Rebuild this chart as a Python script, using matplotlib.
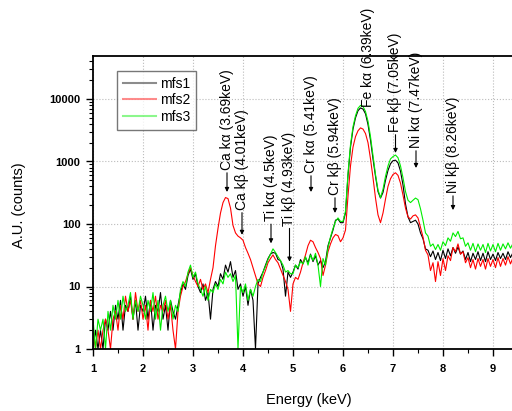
import matplotlib
matplotlib.use('Agg')
import matplotlib.pyplot as plt
import numpy as np
from matplotlib.ticker import LogLocator, MultipleLocator, NullFormatter, FixedLocator, FixedFormatter

plt.rcParams['font.family'] = ['Liberation Sans', 'DejaVu Sans']

# Energy grid (keV): 1.00 .. 9.40 in 0.05 keV channels
E_START = 1.0
E_STEP = 0.05

# mfs1 (black) counts, rows of 0.5 keV
mfs1 = [
    1, 2, 1, 2, 1, 3, 2, 4, 2, 5,                      # 1.00
    3, 6, 2, 5, 4, 7, 3, 6, 2, 5,                      # 1.50
    4, 7, 3, 6, 2, 5, 4, 8, 3, 5,                      # 2.00
    2, 6, 4, 3, 5, 8, 11, 9, 15, 19,                   # 2.50
    13, 16, 10, 8, 11, 6, 8, 3, 9, 12,                 # 3.00
    10, 16, 13, 22, 17, 25, 14, 18, 9, 11,             # 3.50
    7, 10, 5, 9, 6, 1, 11, 14, 17, 22,                 # 4.00
    28, 33, 35, 34, 27, 26, 19, 7, 17, 14,             # 4.50
    17, 22, 19, 27, 23, 29, 24, 33, 25, 31,            # 5.00
    22, 26, 20, 25, 45, 60, 80, 115, 120, 105,         # 5.50
    105, 150, 600, 1700, 3300, 5000, 6500, 7200, 6900, 5800,  # 6.00
    3900, 2200, 1100, 580, 330, 260, 320, 500, 720, 920,      # 6.50
    1030, 1050, 950, 700, 420, 210, 130, 105, 110, 115,       # 7.00
    100, 72, 58, 40, 38, 30, 37, 27, 35, 26,           # 7.50
    38, 28, 40, 31, 42, 34, 43, 33, 37, 27,            # 8.00
    35, 25, 34, 27, 36, 26, 34, 25, 36, 27,            # 8.50
    33, 26, 35, 28, 34, 27, 36, 29, 35,                # 9.00
]

# mfs2 (red) counts
mfs2 = [
    2, 1, 2, 1, 2, 3, 2, 1, 3, 4,
    2, 5, 3, 7, 4, 6, 3, 8, 4, 6,
    3, 5, 2, 6, 4, 7, 3, 5, 4, 6,
    3, 5, 2, 1, 4, 7, 10, 12, 16, 20,
    15, 12, 10, 13, 9, 11, 8, 13, 20, 45,
    85, 150, 220, 265, 255, 180, 95, 72, 64, 60,
    55, 42, 34, 27, 20, 15, 11, 10, 14, 18,
    24, 28, 32, 27, 24, 19, 15, 12, 9, 4,
    11, 14, 13, 17, 24, 32, 45, 55, 52, 42,
    35, 28, 15, 22, 36, 48, 60, 68, 65, 52,
    60, 80, 280, 850, 1700, 2500, 3100, 3450, 3300, 2800,
    2000, 1100, 550, 260, 140, 105, 150, 250, 400, 530,
    620, 660, 600, 450, 290, 180, 130, 120, 135, 140,
    125, 88, 62, 38, 32, 18, 24, 12, 25, 15,
    28, 18, 31, 26, 42, 36, 48, 33, 36, 24,
    29, 20, 27, 19, 28, 21, 27, 19, 28, 21,
    27, 20, 29, 21, 28, 22, 30, 23, 29,
]

# mfs3 (green) counts
mfs3 = [
    3, 1, 3, 2, 3, 1, 4, 2, 5, 3,
    6, 3, 7, 4, 5, 8, 3, 6, 4, 7,
    5, 3, 6, 4, 8, 3, 6, 2, 5, 7,
    4, 6, 3, 5, 4, 9, 12, 10, 17, 22,
    14, 17, 11, 9, 7, 10, 6, 9, 8, 11,
    9, 13, 11, 17, 14, 16, 12, 15, 1, 10,
    8, 11, 6, 9, 7, 10, 13, 12, 17, 21,
    27, 33, 40, 35, 30, 26, 22, 17, 18, 16,
    16, 22, 20, 25, 23, 30, 22, 32, 26, 34,
    22, 10, 28, 22, 42, 62, 85, 110, 125, 110,
    110, 160, 650, 1850, 3600, 5400, 7100, 7900, 7600, 6300,
    4400, 2500, 1250, 620, 350, 265, 360, 580, 850, 1100,
    1200, 1270, 1150, 850, 550, 330, 240, 220, 240, 260,
    245, 175, 115, 72, 64, 44, 48, 39, 47, 38,
    52, 45, 60, 53, 72, 63, 76, 58, 60, 44,
    50, 38, 49, 36, 48, 38, 47, 35, 49, 37,
    47, 36, 49, 38, 48, 40, 50, 41, 49,
]

series_names = ['mfs1', 'mfs2', 'mfs3']
series_colors = ['black', 'red', '#00ee00']

# Peak annotations: label, arrow x (keV), arrow tip (counts), arrow length (px)
peak_labels = ['Ca k\u03b1 (3.69keV)', 'Ca k\u03b2 (4.01keV)', 'Ti k\u03b1 (4.5keV)',
               'Ti k\u03b2 (4.93keV)', 'Cr k\u03b1 (5.41keV)', 'Cr k\u03b2 (5.94keV)',
               'Fe k\u03b2 (7.05keV)', 'Ni k\u03b1 (7.47keV)', 'Ni k\u03b2 (8.26keV)']
peak_x = [3.68, 3.98, 4.56, 4.93, 5.36, 5.84, 7.05, 7.46, 8.20]
peak_tip = [325, 67, 49, 25, 325, 150, 1370, 787, 167]
peak_len = [22, 25, 22, 36, 19, 18, 21, 20, 17]

fe_label = 'Fe k\u03b1 (6.39keV)'
fe_x = 6.50
fe_y = 7450

x_ticks = [1, 2, 3, 4, 5, 6, 7, 8, 9]
y_ticks = [1, 10, 100, 1000, 10000]
y_tick_labels = ['1', '10', '100', '1000', '10000']

energy = E_START + E_STEP * np.arange(len(mfs1))

fig = plt.figure(figsize=(5.12, 4.11), dpi=100)
ax = fig.add_axes([93/512, 62/411, 425/512, 293/411])

lines = []
for vals, name, col in zip([mfs1, mfs2, mfs3], series_names, series_colors):
    ln, = ax.plot(energy, vals, color=col, lw=0.8, label=name)
    lines.append(ln)

ax.set_yscale('log')
ax.set_xlim(1, 9.5)
ax.set_ylim(1, 10**4.688)

ax.xaxis.set_major_locator(FixedLocator(x_ticks))
ax.xaxis.set_minor_locator(MultipleLocator(0.5))
ax.yaxis.set_major_locator(FixedLocator(y_ticks))
ax.yaxis.set_major_formatter(FixedFormatter(y_tick_labels))
ax.yaxis.set_minor_locator(LogLocator(base=10, subs=np.arange(2, 10)))
ax.yaxis.set_minor_formatter(NullFormatter())

ax.tick_params(which='major', direction='out', length=5, width=1.0, labelsize=8, pad=4)
ax.tick_params(which='minor', direction='out', length=3, width=0.8)
ax.tick_params(axis='x', which='major', pad=6)
for lab in ax.get_xticklabels() + ax.get_yticklabels():
    lab.set_fontweight('bold')

ax.grid(True, which='major', linestyle=':', color='#bbbbbb', lw=0.8)
ax.set_axisbelow(True)

for side in ['left', 'bottom', 'top']:
    ax.spines[side].set_linewidth(1.3)
ax.spines['right'].set_visible(False)

ax.set_xlabel('Energy (keV)', fontsize=10.5)
ax.xaxis.set_label_coords((309 - 93) / 425, -(393 - 349) / 293)
ax.set_ylabel('A.U. (counts)', fontsize=10.5)
ax.yaxis.set_label_coords(-(93 - 26) / 425, (349 - 205) / 293)

leg = fig.legend(handles=lines, loc='upper left', bbox_to_anchor=(117/512, 1 - 71/411),
                 fontsize=10, frameon=True, fancybox=False, edgecolor='#555555',
                 handlelength=2.4, handletextpad=0.3, labelspacing=0.2, borderpad=0.4,
                 borderaxespad=0)
leg.get_frame().set_linewidth(1.0)
for h in leg.legend_handles:
    h.set_alpha(0.45)
    h.set_linewidth(1.5)

for lab, px, tip, ln in zip(peak_labels, peak_x, peak_tip, peak_len):
    ax.annotate(lab, xy=(px, tip), xytext=(0, ln), textcoords='offset pixels',
                rotation=90, ha='center', va='bottom', fontsize=10,
                arrowprops=dict(arrowstyle='-|>', color='black', lw=0.8,
                                shrinkA=0, shrinkB=0, mutation_scale=6))

ax.text(fe_x, fe_y, fe_label, rotation=90, ha='center', va='bottom', fontsize=10,
        clip_on=False)

fig.savefig('out.png', dpi=100)
